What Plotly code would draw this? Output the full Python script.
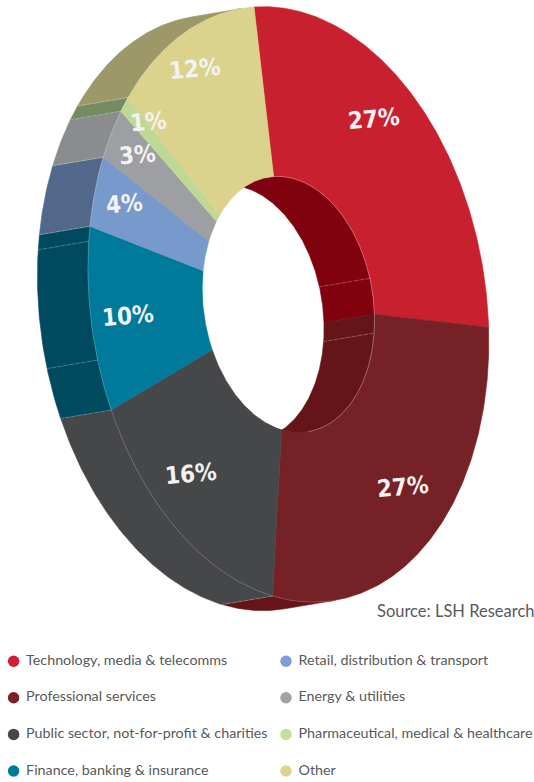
import numpy as np
import plotly.graph_objects as go

categories = ["Technology, media & telecomms", "Professional services",
              "Public sector, not-for-profit & charities", "Finance, banking & insurance",
              "Retail, distribution & transport", "Energy & utilities",
              "Pharmaceutical, medical & healthcare", "Other"]
values = [27, 27, 16, 10, 4, 3, 1, 12]
top_colors = ["#c8202f", "#762126", "#464749", "#007a9a", "#7899cb", "#9d9fa2", "#bfd895", "#dbd28d"]
wall_colors = ["#80020f", "#651519", "#464749", "#004a60", "#52688a", "#8a8c8f", "#758c63", "#9c9868"]
legend_colors = ["#d21f35", "#7a2026", "#464749", "#007a9a", "#7d9fd4", "#a0a2a6", "#c5df9d", "#ddd48c"]
label_xy = [(374, 119), (403, 487), (191, 474), (128, 316), (124, 204), (137, 155), (148, 122), (195, 69)]
outer_extra_facets = [262.0, 285.0]
inner_extra_facets = [81.0, 105.7]
source_text = "Source: LSH Research"

C = np.array([288.4, 304.4])
A = np.array([-34.4, -297.4])
B = np.array([197.5, -14.4])
S = np.array([-50.5, 8.5])
HOLE = 0.43
VIS = 176.4  # angle where the extrusion direction is tangent
LABEL_FONT = "DejaVu Sans Condensed, Roboto, sans-serif"
TEXT_FONT = "Lato, sans-serif"
FACET = "rgba(255,255,255,0.4)"


def arc(t0, t1, r=1.0, shift=False):
    t = np.radians(np.linspace(t0, t1, max(int(abs(t1 - t0) * 2), 2)))
    pts = C + r * (np.outer(np.cos(t), A) + np.outer(np.sin(t), B))
    return pts + S if shift else pts


def poly(pts, color):
    pts = np.vstack([pts, pts[:1]])
    return go.Scatter(x=pts[:, 0], y=pts[:, 1], mode="lines", fill="toself", fillcolor=color,
                      line=dict(color=color, width=0.6), hoverinfo="skip", showlegend=False)


def seg(pts, color, width=0.7, dash="solid"):
    return go.Scatter(x=pts[:, 0], y=pts[:, 1], mode="lines", hoverinfo="skip", showlegend=False,
                      line=dict(color=color, width=width, dash=dash))


def facet(t, r=1.0):
    return seg(np.vstack([arc(t, t, r)[:1], arc(t, t, r, shift=True)[:1]]), FACET, 0.7, "5px,1px")


edges = np.concatenate([[0], np.cumsum(values)]) * 3.6
fig = go.Figure()

# outer walls (visible half)
for i, col in enumerate(wall_colors):
    a, b = max(edges[i], VIS), min(edges[i + 1], VIS + 180)
    if b > a:
        fig.add_trace(poly(np.vstack([arc(a, b), arc(b, a, shift=True)]), col))

# inner walls (visible half of the hole)
for a, b, col in [(VIS - 180, edges[1], wall_colors[0]), (edges[1], VIS, wall_colors[1])]:
    fig.add_trace(poly(np.vstack([arc(a, b, HOLE), arc(b, a, HOLE, shift=True)]), col))
for t in inner_extra_facets:
    fig.add_trace(facet(t, HOLE))

# top faces
for i, col in enumerate(top_colors):
    a, b = edges[i], edges[i + 1]
    fig.add_trace(poly(np.vstack([arc(a, b), arc(b, a, HOLE)]), col))

# outer wall edges
for t in list(edges[2:8]) + outer_extra_facets:
    fig.add_trace(facet(t))
fig.add_trace(seg(arc(VIS, 316.8), "rgba(255,255,255,0.25)", 0.7))
fig.add_trace(seg(arc(0, VIS, HOLE), "rgba(255,255,255,0.4)", 0.7))

# legend as marks + text
rows = np.array([0, 1, 2, 3, 0, 1, 2, 3])
cols = [0, 0, 0, 0, 1, 1, 1, 1]
leg_x = np.array([13.6, 286.0])[cols]
leg_y = 661.2 + 36.6 * rows
fig.add_trace(go.Scatter(x=leg_x, y=leg_y, mode="markers",
                         marker=dict(size=11.5, color=legend_colors, line=dict(width=0)),
                         hoverinfo="skip", showlegend=False))
fig.add_trace(go.Scatter(x=leg_x + 12.5, y=leg_y, mode="text", text=categories, textposition="middle right",
                         textfont=dict(family=TEXT_FONT, size=14.3, color="#58595b"),
                         hoverinfo="skip", showlegend=False))

for v, (x, y) in zip(values, label_xy):
    fig.add_annotation(x=x, y=y, text=f"<b>{v}%</b>", showarrow=False, textangle=-5,
                       font=dict(family=LABEL_FONT, size=24, color="#f2f2f2"))

fig.add_annotation(x=534, y=611, text=source_text, showarrow=False, xanchor="right", xshift=2,
                   font=dict(family=TEXT_FONT, size=16.5, color="#58595b"))

fig.update_layout(width=534, height=782, margin=dict(l=0, r=0, t=0, b=0), showlegend=False,
                  paper_bgcolor="white", plot_bgcolor="white",
                  xaxis=dict(range=[0, 534], visible=False, fixedrange=True),
                  yaxis=dict(range=[782, 0], visible=False, fixedrange=True))
fig.write_html("out.html", config=dict(displayModeBar=False),
               post_script="document.body.style.margin='0';document.body.style.overflow='hidden';")
